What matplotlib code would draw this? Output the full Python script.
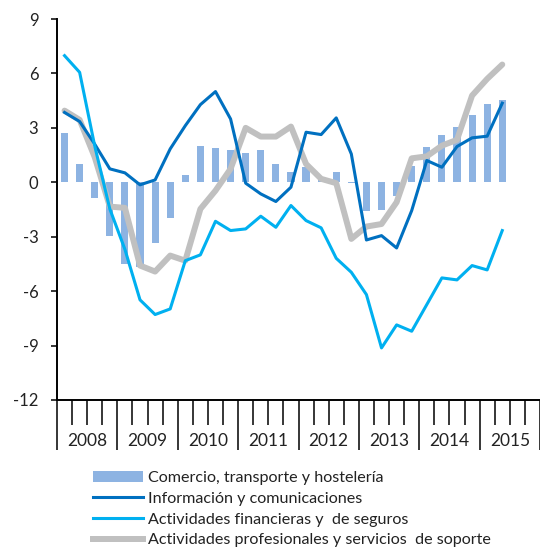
import numpy as np
import matplotlib
matplotlib.use('Agg')
from matplotlib import pyplot as plt
from matplotlib.patches import Patch
from matplotlib.lines import Line2D

plt.rcParams['font.family'] = ['Lato', 'DejaVu Sans']
plt.rcParams['axes.unicode_minus'] = False

years = ['2008', '2009', '2010', '2011', '2012', '2013', '2014', '2015']

# quarterly growth rates, 2008 Q1 - 2015 Q2
comercio = [2.72, 1.01, -0.86, -2.98, -4.50, -4.68, -3.34, -1.96,
            0.42, 2.02, 1.91, 1.80, 1.60, 1.80, 1.01, 0.59,
            0.83, 0.28, 0.59, -0.05, -1.56, -1.50, -0.75, 0.92,
            1.93, 2.63, 3.03, 3.73, 4.32, 4.54]
informacion = [3.85, 3.35, 2.10, 0.74, 0.52, -0.14, 0.13, 1.84,
               3.12, 4.28, 5.00, 3.49, -0.05, -0.64, -1.06, -0.27,
               2.76, 2.63, 3.55, 1.56, -3.18, -2.94, -3.62, -1.56,
               1.20, 0.83, 1.97, 2.45, 2.54, 4.36]
financieras = [6.98, 6.06, 2.00, -1.47, -3.70, -6.48, -7.29, -6.98,
               -4.32, -4.00, -2.15, -2.66, -2.57, -1.87, -2.48, -1.28,
               -2.11, -2.51, -4.19, -4.96, -6.19, -9.13, -7.86, -8.21,
               -6.74, -5.27, -5.38, -4.59, -4.83, -2.66]
profesionales = [3.95, 3.44, 1.38, -1.34, -1.41, -4.59, -4.92, -4.04,
                 -4.32, -1.47, -0.46, 0.74, 3.00, 2.52, 2.52, 3.07,
                 1.01, 0.19, -0.05, -3.12, -2.44, -2.30, -1.10, 1.32,
                 1.43, 2.02, 2.34, 4.78, 5.70, 6.49]

labels = ['Comercio, transporte y hostelería',
          'Información y comunicaciones',
          'Actividades financieras y  de seguros',
          'Actividades profesionales y servicios  de soporte']

c_bar = '#8DB3E2'
c_info = '#0070C0'
c_fin = '#00B0F0'
c_prof = '#C0C0C0'

W, H = 540, 556
fig = plt.figure(figsize=(W / 100, H / 100), dpi=100)
ax = fig.add_axes([57 / W, 1 - 400 / H, 1 - 57 / W, 381 / H])

x = np.arange(len(comercio))
ax.bar(x, comercio, width=0.47, color=c_bar, zorder=1)
ax.plot(x, informacion, color=c_info, lw=2.2, zorder=3)
ax.plot(x, financieras, color=c_fin, lw=2.2, zorder=3)
ax.plot(x, profesionales, color=c_prof, lw=4.3, zorder=2,
        solid_capstyle='round')

nq = 4 * len(years)
ax.set_xlim(-0.5, nq - 0.5)
ax.set_ylim(-12, 9)
ax.set_yticks(np.arange(-12, 10, 3))

for s in ['top', 'right']:
    ax.spines[s].set_visible(False)
for s in ['left', 'bottom']:
    ax.spines[s].set_linewidth(1.4)

# year boundaries long, quarter boundaries short
ax.set_xticks(np.arange(0, nq + 1, 4) - 0.5)
ax.set_xticklabels([])
ax.set_xticks(np.arange(0, nq) - 0.5, minor=True)
ax.tick_params(axis='x', which='major', length=36, width=1.1, direction='out')
ax.tick_params(axis='x', which='minor', length=18, width=1.1, direction='out')
ax.tick_params(axis='y', length=4.5, width=1.1, pad=9, labelsize=12,
               labelcolor='#222222')

for i, yr in enumerate(years):
    ax.annotate(yr, xy=(4 * i + 1.5, 0), xycoords=ax.get_xaxis_transform(),
                xytext=(0, -41), textcoords='offset pixels',
                ha='center', va='center', fontsize=12.5, color='#222222')

handles = [Patch(facecolor=c_bar, edgecolor='none'),
           Line2D([], [], color=c_info, lw=2.2),
           Line2D([], [], color=c_fin, lw=2.2),
           Line2D([], [], color=c_prof, lw=4.3)]
fig.legend(handles, labels, loc='upper left',
           bbox_to_anchor=(93 / W, 1 - 471 / H), frameon=False,
           borderpad=0, borderaxespad=0, handlelength=3.1,
           handletextpad=0.3, labelspacing=0.4, fontsize=11.6,
           labelcolor='#222222')

fig.savefig('out.png', dpi=100)
